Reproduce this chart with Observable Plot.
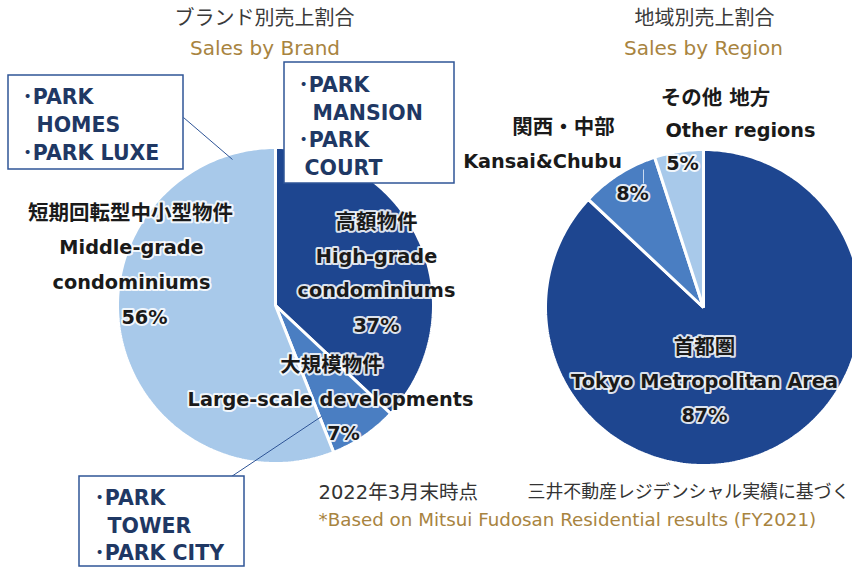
<!DOCTYPE html>
<html>
<head>
<meta charset="utf-8">
<script src="https://cdn.jsdelivr.net/npm/d3@7"></script>
<script src="https://cdn.jsdelivr.net/npm/@observablehq/plot@0.6"></script>
<style>
  html, body { margin: 0; padding: 0; background: #fff; overflow: hidden; }
  #chart svg { display: block; }
</style>
</head>
<body>
<div id="chart"></div>
<script>
// ---------- DATA ----------
const brandTitleJa = "ブランド別売上割合";
const brandTitleEn = "Sales by Brand";
const brandKeys = ["high", "large", "middle"];
const brandNamesJa = ["高額物件", "大規模物件", "短期回転型中小型物件"];
const brandNamesEn = [["High-grade", "condominiums"], ["Large-scale developments"], ["Middle-grade", "condominiums"]];
const brandShares = [37, 7, 56];
const brandBrands = [
  ["･PARK", "MANSION", "･PARK", "COURT"],
  ["･PARK", "TOWER", "･PARK CITY"],
  ["･PARK", "HOMES", "･PARK LUXE"]
];

const regionTitleJa = "地域別売上割合";
const regionTitleEn = "Sales by Region";
const regionKeys = ["tokyo", "kansai", "other"];
const regionNamesJa = ["首都圏", "関西・中部", "その他 地方"];
const regionNamesEn = [["Tokyo Metropolitan Area"], ["Kansai&Chubu"], ["Other regions"]];
const regionShares = [87, 8, 5];

const noteJa1 = "2022年3月末時点";
const noteJa2 = "三井不動産レジデンシャル実績に基づく";
const noteEn = "*Based on Mitsui Fudosan Residential results (FY2021)";

// ---------- LAYOUT / STYLE ----------
const W = 852, H = 567;
const shades = ["dark", "mid", "light"];
const shadeColors = ["#1e4690", "#4a7ec2", "#a8c9ea"];
const goldColor = "#a8843f";
const navyText = "#1f3864";
const boxStroke = "#2f5597";
const FONT = "'DejaVu Sans', 'Noto Sans CJK JP', sans-serif";

const pies = [
  {key: "brand", cx: 275, cy: 305, r: 158, shares: brandShares, keys: brandKeys},
  {key: "region", cx: 703, cy: 307, r: 158, shares: regionShares, keys: regionKeys}
];

// label layout: per slice, x for each line, first line y, step
const brandLabelLayout = [
  {xs: [376, 376, 376, 376], y0: 222, dy: 34.3},
  {xs: [331, 330, 343], y0: 365, dy: 34},
  {xs: [130, 131, 131, 144], y0: 213, dy: 34.7}
];
const regionLabelLayout = [
  {xs: [704, 704, 704], y0: 347, dy: 34},
  {xs: [563, 542, 632], y0: 127, dy: 34.5, yLast: 193},
  {xs: [715, 740, 682], y0: 98, dy: 32.5}
];
const boxLayout = [
  {x1: 284, y1: 62, x2: 454, y2: 183, xs: [298, 312, 298, 304], y0: 85, dy: 27.7},
  {x1: 79, y1: 476, x2: 244, y2: 566, xs: [94, 107, 94], y0: 498, dy: 27.5},
  {x1: 8, y1: 75, x2: 183, y2: 169, xs: [22, 36, 22], y0: 97, dy: 28}
];
const leaders = [
  {x1: 183, y1: 117, x2: 232, y2: 159, c: boxStroke},
  {x1: 231, y1: 476, x2: 321, y2: 416, c: boxStroke},
  {x1: 643, y1: 169, x2: 643, y2: 183, c: "#c9daf0"}
];

// ---------- BUILD ----------
function wedgePoints(p) {
  const arcs = d3.pie().sort(null).startAngle(0).endAngle(2 * Math.PI)(p.shares);
  const pts = [];
  arcs.forEach((a, i) => {
    const id = p.key + "-" + p.keys[i];
    pts.push({id, shade: shades[i], x: p.cx, y: p.cy});
    const n = Math.max(2, Math.ceil((a.endAngle - a.startAngle) / (Math.PI / 180)));
    for (let k = 0; k <= n; k++) {
      const t = a.startAngle + (a.endAngle - a.startAngle) * k / n;
      pts.push({id, shade: shades[i], x: p.cx + p.r * Math.sin(t), y: p.cy - p.r * Math.cos(t)});
    }
  });
  return pts;
}
const wedgeData = pies.flatMap(wedgePoints);

function labelRows(namesJa, namesEn, shares, layout) {
  const rows = [];
  namesJa.forEach((ja, i) => {
    const lines = [ja, ...namesEn[i], shares[i] + "%"];
    const L = layout[i];
    lines.forEach((t, j) => {
      let y = L.y0 + j * L.dy;
      if (j === lines.length - 1 && L.yLast) y = L.yLast;
      rows.push({text: t, x: L.xs[j], y, fs: j === 0 ? 20.5 : 19.3});
    });
  });
  return rows;
}
const labels = [
  ...labelRows(brandNamesJa, brandNamesEn, brandShares, brandLabelLayout),
  ...labelRows(regionNamesJa, regionNamesEn, regionShares, regionLabelLayout)
];

const boxes = boxLayout.map(b => ({x1: b.x1, y1: b.y1, x2: b.x2, y2: b.y2}));
const boxTexts = brandBrands.flatMap((lines, i) =>
  lines.map((t, j) => ({text: t, x: boxLayout[i].xs[j], y: boxLayout[i].y0 + j * boxLayout[i].dy})));

const titles = [
  {text: brandTitleJa, x: 264, y: 18, c: "#3a3a3a", fs: 20},
  {text: regionTitleJa, x: 704, y: 18, c: "#3a3a3a", fs: 20},
  {text: brandTitleEn, x: 264.5, y: 48, c: goldColor, fs: 20},
  {text: regionTitleEn, x: 703, y: 48, c: goldColor, fs: 20}
];
const notes = [
  {text: noteJa1, x: 318, y: 492, c: "#333", fs: 19.5},
  {text: noteJa2, x: 527, y: 492, c: "#333", fs: 17.9},
  {text: noteEn, x: 318, y: 520, c: goldColor, fs: 18.3}
];

const chart = Plot.plot({
  width: W,
  height: H,
  margin: 0,
  x: {domain: [0, W], range: [0, W], axis: null},
  y: {domain: [0, H], range: [0, H], axis: null},
  color: {domain: shades, range: shadeColors},
  style: {fontFamily: FONT, background: "#fff", overflow: "hidden"},
  marks: [
    Plot.line(wedgeData, {x: "x", y: "y", z: "id", fill: "shade", stroke: "white", strokeWidth: 3, strokeLinejoin: "miter", curve: "linear-closed"}),
    Plot.link(leaders, {x1: "x1", y1: "y1", x2: "x2", y2: "y2", stroke: d => d.c, strokeWidth: 1}),
    Plot.rect(boxes, {x1: "x1", y1: "y1", x2: "x2", y2: "y2", fill: "white", stroke: boxStroke, strokeWidth: 1.5}),
    Plot.text(boxTexts, {x: "x", y: "y", text: "text", textAnchor: "start", fontSize: 20.5, fontWeight: "bold", fill: navyText}),
    Plot.text(labels, {x: "x", y: "y", text: "text", fontSize: d => d.fs, fontWeight: "bold", fill: "#1a1a1a",
      stroke: "white", strokeWidth: 4, strokeOpacity: 0.85, paintOrder: "stroke"}),
    Plot.text(titles, {x: "x", y: "y", text: "text", fill: d => d.c, fontSize: d => d.fs}),
    Plot.text(notes, {x: "x", y: "y", text: "text", textAnchor: "start", fill: d => d.c, fontSize: d => d.fs})
  ]
});
document.getElementById("chart").appendChild(chart);
</script>
</body>
</html>
